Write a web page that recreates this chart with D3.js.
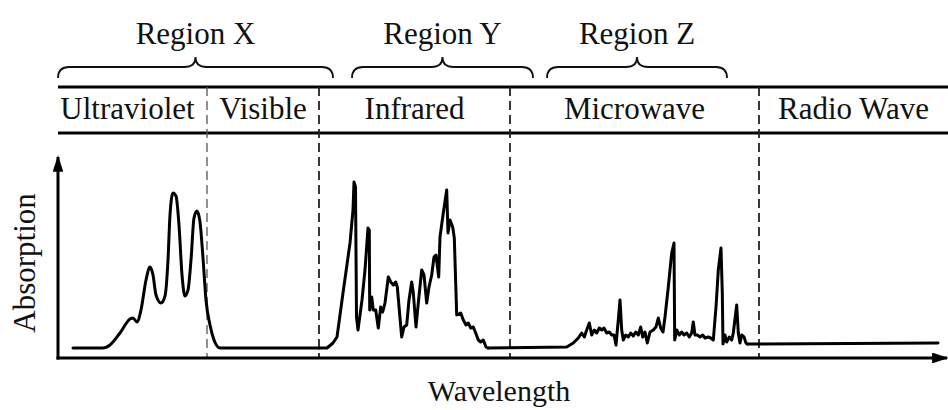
<!DOCTYPE html>
<html>
<head>
<meta charset="utf-8">
<script src="https://cdn.jsdelivr.net/npm/d3@7"></script>
<style>
  body { margin: 0; background: #fff; }
  svg { display: block; font-family: "Liberation Serif", "Times New Roman", serif; }
</style>
</head>
<body>
<div id="chart"></div>
<script>
// spectrum bands and their boundaries (wavelength units)
var bandNames = ["Ultraviolet", "Visible", "Infrared", "Microwave", "Radio Wave"];
var bandEdges = [0, 149, 261, 452, 701, 890];

// braces above the header
var regionNames = ["Region X", "Region Y", "Region Z"];
var regionStart = [0, 294, 489];
var regionEnd = [275, 475, 669];

// ultraviolet / visible part (smooth)
var uvWave = [15, 45, 52, 62, 72, 75, 79, 83, 88, 92, 95, 98, 103, 107, 110, 112, 115, 118, 121, 124, 127, 130, 133, 136, 139, 142, 145, 148, 152, 156, 162, 261];
var uvAbs  = [0, 0, 3, 15, 29, 30, 26, 38, 68, 81, 73, 53, 45, 52, 88, 133, 155, 152, 123, 73, 52, 58, 88, 130, 137, 126, 90, 48, 23, 8, 0, 0];

// infrared part (jagged)
var irWave = [261, 269, 275, 279, 285, 292, 295, 296, 297.5, 298.5, 300, 304, 307, 310, 311.3, 311.7, 313.7, 315.3, 317.7, 320.3, 322.7, 324.7, 327, 330.3, 332.7, 335.3, 337.7, 339.3, 341.3, 343.7, 346, 348.7, 351, 353.7, 355.3, 358, 360.3, 363.7, 366, 368.7, 371, 373.7, 376, 378, 380.7, 382, 385.3, 388.7, 390, 392, 394.7, 396.3, 398.7, 402.7, 405.3, 408, 410.3, 412.7, 415.3, 417.7, 420.3, 422.7, 425.3, 428, 430];
var irAbs  = [0, 0, 5, 11, 55, 105, 138, 166, 161, 31, 18, 48, 78, 120, 118, 38, 51, 38, 38, 20, 41, 36, 45, 71, 66, 63, 66, 61, 38, 11, 21, 23, 48, 66, 55, 21, 45, 78, 73, 45, 61, 73, 91, 93, 71, 111, 135, 158, 115, 128, 121, 110, 33, 35, 28, 23, 25, 20, 21, 15, 8, 6, 8, 1, 0];

// microwave part (jagged, sharp lines)
var mwWave = [430, 508.7, 515.3, 520.3, 523.7, 526.3, 528.7, 531.3, 533.7, 536.3, 538.7, 541.3, 543.7, 546, 548.7, 551.3, 553.7, 556, 558, 560.3, 562, 563.7, 565.3, 567.7, 570.3, 572.7, 575.3, 577.7, 580.3, 582.7, 584.7, 587, 589.3, 592, 595.3, 598, 600.3, 602.7, 605, 607, 610.3, 613.7, 616, 616.7, 618.7, 621.3, 623.7, 626, 628.7, 631.3, 633.7, 635.3, 637, 639.3, 642, 644.7, 647, 650.3, 652.7, 655.3, 658, 660.3, 663, 664.3, 665, 667, 668.7, 671.3, 673.7, 675.3, 678.7, 680.3, 682, 683.7, 686, 688, 689.3];
var mwAbs  = [0, 1, 5, 10, 15, 11, 18, 25, 13, 18, 15, 20, 18, 20, 15, 16, 13, 13, 3, 28, 48, 18, 8, 13, 11, 15, 12, 16, 13, 21, 11, 16, 5, 16, 18, 21, 30, 20, 16, 31, 61, 95, 105, 8, 18, 13, 16, 13, 15, 11, 15, 26, 13, 13, 11, 13, 10, 11, 10, 8, 41, 78, 100, 55, 4, 13, 6, 11, 8, 15, 43, 15, 5, 13, 11, 5, 4];

// radio part (flat)
var radioWave = [689.3, 880];
var radioAbs  = [4, 5];

var width = 948, height = 410;

var svg = d3.select("#chart")
  .append("svg")
  .attr("width", width)
  .attr("height", height);

var x = d3.scaleLinear().domain([0, 890]).range([58, 948]);
var y = d3.scaleLinear().domain([0, 200]).range([348, 148]);

var headTop = 87, headBottom = 133, axisY = y(-10);

// arrow heads
var defs = svg.append("defs");
defs.append("marker")
    .attr("id", "arrow")
    .attr("viewBox", "0 0 10 10")
    .attr("refX", 9).attr("refY", 5)
    .attr("markerWidth", 5.5).attr("markerHeight", 3.6)
    .attr("markerUnits", "strokeWidth")
    .attr("orient", "auto")
    .attr("preserveAspectRatio", "none")
  .append("path")
    .attr("d", "M0,0 L10,5 L0,10 Z")
    .attr("fill", "#000");

// header lines
[headTop, headBottom].forEach(function(hy) {
  svg.append("line")
    .attr("x1", x(0)).attr("x2", width)
    .attr("y1", hy).attr("y2", hy)
    .attr("stroke", "#000")
    .attr("stroke-width", 3);
});

// band boundaries (dashed)
var inner = bandEdges.slice(1, -1);
svg.append("g")
  .selectAll("line")
  .data(inner)
  .join("line")
    .attr("x1", d => x(d)).attr("x2", d => x(d))
    .attr("y1", headTop).attr("y2", axisY)
    .attr("stroke", (d, i) => i === 0 ? "#555" : "#222")
    .attr("stroke-width", (d, i) => i === 0 ? 1.3 : 1.8)
    .attr("stroke-dasharray", "9,5");

// band labels
svg.append("g")
  .selectAll("text")
  .data(bandNames)
  .join("text")
    .attr("x", (d, i) => (x(bandEdges[i]) + x(bandEdges[i + 1])) / 2 - (i === 0 ? 5 : 0))
    .attr("y", 119)
    .attr("text-anchor", "middle")
    .attr("font-size", 31)
    .attr("fill", "#111")
    .text(d => d);

// braces
function bracePath(a, b) {
  var m = (a + b) / 2, yb = 78, yh = 67, yt = 57, r = 11;
  return "M" + a + "," + yb +
    " Q" + a + "," + yh + " " + (a + r) + "," + yh +
    " L" + (m - r) + "," + yh +
    " Q" + m + "," + yh + " " + m + "," + yt +
    " Q" + m + "," + yh + " " + (m + r) + "," + yh +
    " L" + (b - r) + "," + yh +
    " Q" + b + "," + yh + " " + b + "," + yb;
}

regionNames.forEach(function(name, i) {
  var a = x(regionStart[i]), b = x(regionEnd[i]);
  svg.append("path")
    .attr("d", bracePath(a, b))
    .attr("fill", "none")
    .attr("stroke", "#111")
    .attr("stroke-width", 1.8);
  svg.append("text")
    .attr("x", (a + b) / 2)
    .attr("y", 44)
    .attr("text-anchor", "middle")
    .attr("font-size", 31)
    .attr("fill", "#111")
    .text(name);
});

// axes
svg.append("line")
  .attr("x1", x(0) - 1.5).attr("x2", width - 1)
  .attr("y1", axisY).attr("y2", axisY)
  .attr("stroke", "#000").attr("stroke-width", 3)
  .attr("marker-end", "url(#arrow)");

svg.append("line")
  .attr("x1", x(0)).attr("x2", x(0))
  .attr("y1", axisY + 1.5).attr("y2", y(191))
  .attr("stroke", "#000").attr("stroke-width", 3)
  .attr("marker-end", "url(#arrow)");

// axis titles
svg.append("text")
  .attr("transform", "translate(35," + 263 + ") rotate(-90)")
  .attr("text-anchor", "middle")
  .attr("font-size", 31)
  .attr("fill", "#111")
  .text("Absorption");

svg.append("text")
  .attr("x", 499)
  .attr("y", 401)
  .attr("text-anchor", "middle")
  .attr("font-size", 30)
  .attr("fill", "#111")
  .text("Wavelength");

// spectrum
function pairs(w, a) { return w.map((d, i) => [d, a[i]]); }

var segs = [
  { pts: pairs(uvWave, uvAbs), curve: d3.curveMonotoneX },
  { pts: pairs(irWave, irAbs), curve: d3.curveLinear },
  { pts: pairs(mwWave, mwAbs), curve: d3.curveLinear },
  { pts: pairs(radioWave, radioAbs), curve: d3.curveLinear }
];

segs.forEach(function(s) {
  svg.append("path")
    .datum(s.pts)
    .attr("fill", "none")
    .attr("stroke", "#000")
    .attr("stroke-width", 3)
    .attr("stroke-linejoin", "round")
    .attr("stroke-linecap", "round")
    .attr("d", d3.line()
      .x(d => x(d[0]))
      .y(d => y(d[1]))
      .curve(s.curve));
});
</script>
</body>
</html>
